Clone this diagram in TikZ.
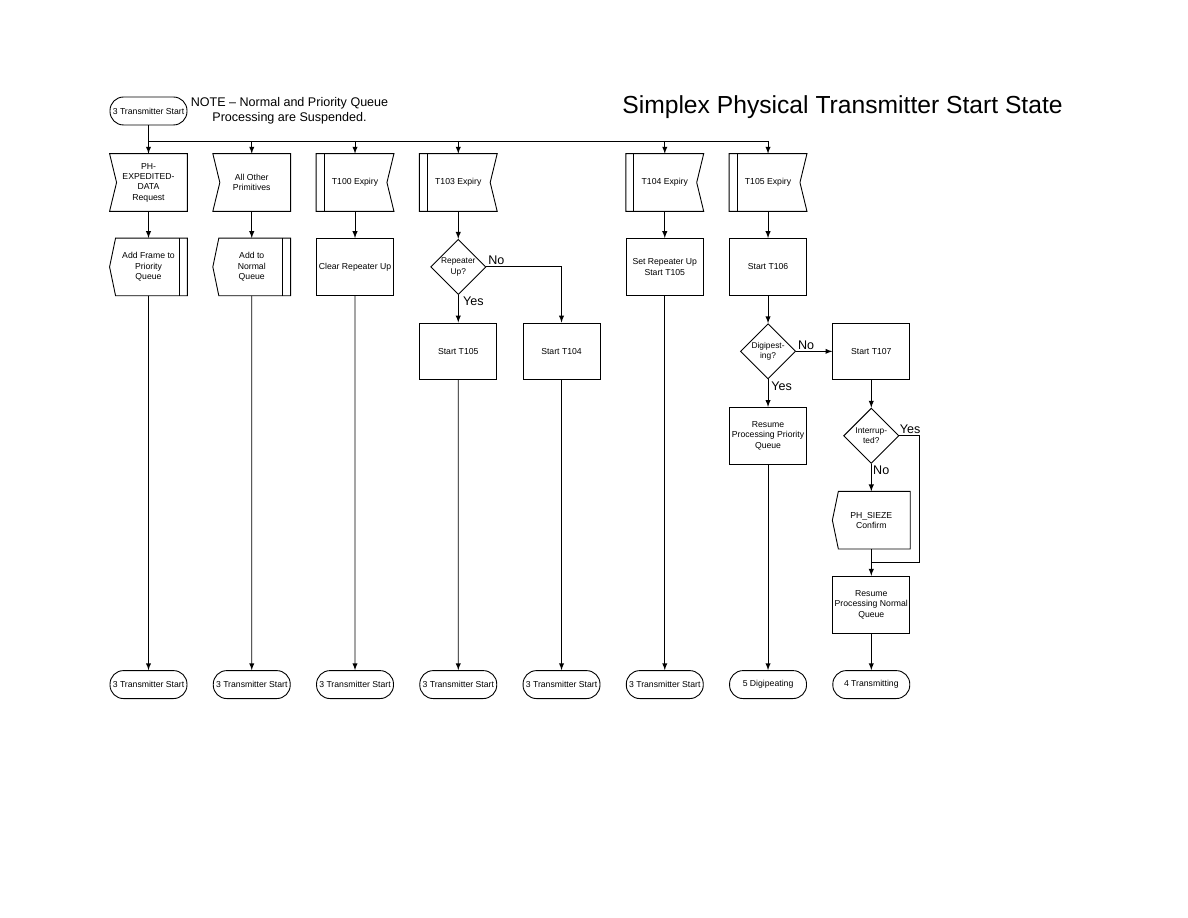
\documentclass[tikz,border=0pt]{standalone}
\usepackage{fontspec}
\setmainfont{Liberation Sans}
\usetikzlibrary{positioning, arrows, calc, shapes.geometric}

\tikzset{
  blk/.style={minimum width=51.5pt, minimum height=38pt, inner sep=1pt, align=center,
    font=\fontsize{5.8}{6.9}\selectfont},
  box/.style={blk, draw},
  term/.style={draw, rounded corners=9pt, minimum width=51.5pt, minimum height=18.7pt,
    inner sep=1pt, font=\fontsize{5.8}{6.9}\selectfont},
  decide/.style={draw, diamond, aspect=1, minimum width=37pt, minimum height=37pt,
    inner sep=0pt, align=center, font=\fontsize{5.6}{6.9}\selectfont},
  answer/.style={inner sep=1pt, font=\fontsize{8.4}{10}\selectfont},
}

\begin{document}
\begin{tikzpicture}[x=0.6692pt, y=-0.6692pt, node distance=56.5pt and 69.1pt, on grid,
    >=latex, line width=0.6pt]
  \useasboundingbox (0,0) rectangle (1188,918);

  \node[term] (start) at (148.5,111) {3 Transmitter Start};
  \node[align=center, font=\fontsize{8.4}{10}\selectfont] (note) at (289.5,110.5)
    {NOTE – Normal and Priority Queue\\Processing are Suspended.};
  \node[font=\fontsize{16.5}{20}\selectfont] (title) at (842.5,107)
    {Simplex Physical Transmitter Start State};

  % events
  \node[blk] (e1) at (148.5,182.5) {PH-\\EXPEDITED-\\DATA\\Request};
  \node[blk] (e2) [right=of e1] {All Other\\Primitives};
  \node[blk] (e3) [right=of e2] {T100 Expiry};
  \node[blk] (e4) [right=of e3] {T103 Expiry};
  \node[blk] (e6) [right=138.2pt of e4] {T104 Expiry};
  \node[blk] (e7) [right=of e6] {T105 Expiry};

  \node[blk] (a1) [below=of e1] {Add Frame to\\Priority\\Queue};
  \node[blk] (a2) [below=of e2] {Add to\\Normal\\Queue};
  \node[box] (a3) [below=of e3] {Clear Repeater Up};
  \node[decide] (d4) [below=of e4] {Repeater\\Up?};
  \node[box] (a6) [below=of e6] {Set Repeater Up\\Start T105};
  \node[box] (a7) [below=of e7] {Start T106};

  \node[box] (b4) [below=of d4] {Start T105};
  \node[box] (b5) [right=of b4] {Start T104};
  \node[decide] (d7) [below=of a7] {Digipest-\\ing?};
  \node[box] (b8) [right=of d7] {Start T107};

  \node[box] (c7) [below=of d7] {Resume\\Processing Priority\\Queue};
  \node[decide] (d8) [below=of b8] {Interrup-\\ted?};
  \node[blk] (f8) [below=of d8] {PH\_SIEZE\\Confirm};
  \node[box] (g8) [below=of f8] {Resume\\Processing Normal\\Queue};

  % next states
  \node[term] (t8) [below=53.5pt of g8] {4 Transmitting};
  \node[term] (t7) [left=of t8] {5 Digipeating};
  \foreach \i/\j in {6/7,5/6,4/5,3/4,2/3,1/2}
    \node[term] (t\i) [left=of t\j] {3 Transmitter Start};

  % symbol outlines
  \foreach \n in {e1,e2}
    \draw (\n.north west) -- (\n.north east) -- (\n.south east) -- (\n.south west)
      -- ($(\n.west)+(7,0)$) -- cycle;
  \foreach \n in {e3,e4,e6,e7} {
    \draw (\n.north west) -- (\n.north east) -- ($(\n.east)+(-7,0)$) -- (\n.south east)
      -- (\n.south west) -- cycle;
    \draw ($(\n.north west)+(8,0)$) -- ($(\n.south west)+(8,0)$);
  }
  \foreach \n in {a1,a2,f8}
    \draw ($(\n.north west)+(6,0)$) -- (\n.north east) -- (\n.south east)
      -- ($(\n.south west)+(6,0)$) -- (\n.west) -- cycle;
  \foreach \n in {a1,a2}
    \draw ($(\n.north east)+(-8,0)$) -- ($(\n.south east)+(-8,0)$);

  % connectors
  \coordinate (bus) at (148.5,141);
  \draw (start) -- (bus) -- (bus -| e7);
  \foreach \n in {e1,e2,e3,e4,e6,e7}
    \draw[->] (bus -| \n) -- (\n);

  \path[->]
    (e1) edge (a1)
    (e2) edge (a2)
    (e3) edge (a3)
    (e4) edge (d4)
    (e6) edge (a6)
    (e7) edge (a7)
    (d4) edge (b4)
    (a7) edge (d7)
    (d7) edge (c7)
    (d7) edge (b8)
    (b8) edge (d8)
    (d8) edge (f8)
    (f8) edge (g8);
  \draw[->] (d4.east) -| (b5);
  \coordinate (j8) at ($(f8.south)!0.5!(g8.north)$);
  \draw (d8.east) -- ++(20,0) |- (j8);

  \foreach \a/\b in {a1/t1,a2/t2,a3/t3,b4/t4,b5/t5,a6/t6,c7/t7,g8/t8}
    \draw[->] (\a) -- (\b);

  % answers
  \node[answer, anchor=south west] at (d4.east) {No};
  \node[answer, anchor=north west, xshift=2pt] at (d4.south) {Yes};
  \node[answer, anchor=south west] at (d7.east) {No};
  \node[answer, anchor=north west, xshift=1pt] at (d7.south) {Yes};
  \node[answer, anchor=south west, xshift=-1pt] at (d8.east) {Yes};
  \node[answer, anchor=north west] at (d8.south) {No};
\end{tikzpicture}
\end{document}
